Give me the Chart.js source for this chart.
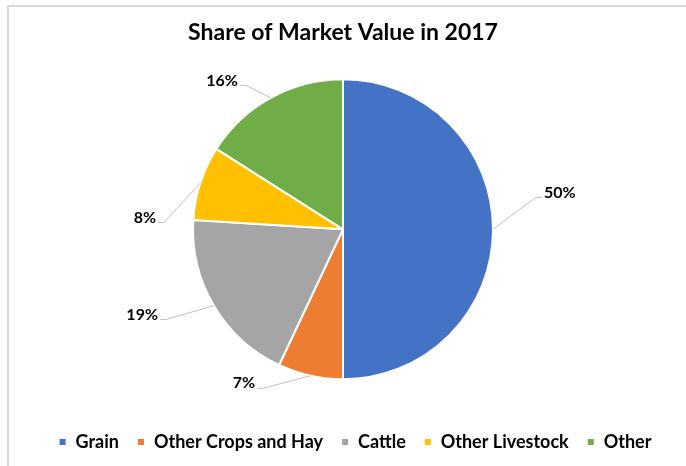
<!DOCTYPE html>
<html>
<head>
<meta charset="utf-8">
<script src="https://cdn.jsdelivr.net/npm/chart.js@4"></script>
<style>
  html, body { margin: 0; padding: 0; background: #fff; overflow: hidden; }
  #wrap { position: relative; width: 686px; height: 466px; }
  #frame { position: absolute; left: 7px; top: 5px; width: 700px; height: 480px;
           border-top: 2px solid #d9d9d9; border-left: 2px solid #d9d9d9; }
  canvas { position: absolute; left: 0; top: 0; }
</style>
</head>
<body>
<div id="wrap">
  <div id="frame"></div>
  <canvas id="pie" width="686" height="466" style="width:686px;height:466px"></canvas>
</div>
<script>
// data
const categories = ['Grain', 'Other Crops and Hay', 'Cattle', 'Other Livestock', 'Other'];
const shares = [50, 7, 19, 8, 16];
const colors = ['#4472C4', '#ED7D31', '#A5A5A5', '#FFC000', '#70AD47'];

const FONT = 'Lato, "Open Sans", sans-serif';

// data labels with leader lines, placed relative to each slice
const leaderLabels = {
  id: 'leaderLabels',
  afterDatasetsDraw(chart, args, opts) {
    const ctx = chart.ctx;
    const meta = chart.getDatasetMeta(0);
    meta.data.forEach((arc, i) => {
      const p = arc.getProps(['x', 'y', 'startAngle', 'endAngle', 'outerRadius'], true);
      const mid = (p.startAngle + p.endAngle) / 2;
      const nudge = opts.nudge[i] || [0, 20];
      const a2 = mid + nudge[0] * Math.PI / 180;
      const r2 = p.outerRadius + nudge[1];
      const ex = p.x + Math.cos(mid) * p.outerRadius;
      const ey = p.y + Math.sin(mid) * p.outerRadius;
      const bx = p.x + Math.cos(a2) * r2;
      const by = p.y + Math.sin(a2) * r2;
      const right = bx > p.x;
      const dir = right ? 1 : -1;

      ctx.save();
      ctx.strokeStyle = '#bfbfbf';
      ctx.lineWidth = 1;
      ctx.beginPath();
      ctx.moveTo(ex, ey);
      ctx.lineTo(bx, by);
      ctx.lineTo(bx + dir * 6, by);
      ctx.stroke();

      ctx.fillStyle = '#000';
      ctx.font = 'bold 16px ' + FONT;
      ctx.textAlign = right ? 'left' : 'right';
      ctx.textBaseline = 'middle';
      ctx.fillText(shares[i] + '%', bx + dir * 8, by - 5);
      ctx.restore();
    });
  }
};

// legend in the original sits a bit right of the pie centre
const legendShift = {
  id: 'legendShift',
  afterLayout(chart, args, opts) {
    const lg = chart.legend;
    if (!lg) return;
    lg.left += opts.dx; lg.right += opts.dx;
    lg.top += opts.dy; lg.bottom += opts.dy;
  }
};

new Chart(document.getElementById('pie'), {
  type: 'pie',
  data: {
    labels: categories,
    datasets: [{
      data: shares,
      backgroundColor: colors,
      borderColor: '#ffffff',
      borderWidth: 2,
      radius: 150
    }]
  },
  options: {
    responsive: false,
    animation: false,
    layout: { padding: { top: 0, bottom: 8, left: 0, right: 0 } },
    plugins: {
      title: {
        display: true,
        text: 'Share of Market Value in 2017',
        color: '#000',
        font: { family: FONT, size: 23, weight: 'bold' },
        padding: { top: 19, bottom: 0 }
      },
      legend: {
        position: 'bottom',
        labels: {
          color: '#000',
          boxWidth: 8,
          boxHeight: 8,
          padding: 18,
          font: { family: FONT, size: 18, weight: 'bold' }
        }
      },
      tooltip: { enabled: false },
      legendShift: { dx: 12, dy: 3 },
      leaderLabels: {
        nudge: [[-9.4, 45.6], [14.1, 28], [3.6, 48.6], [-15.8, 29], [-5.2, 23.6]]
      }
    }
  },
  plugins: [leaderLabels, legendShift]
});
</script>
</body>
</html>
